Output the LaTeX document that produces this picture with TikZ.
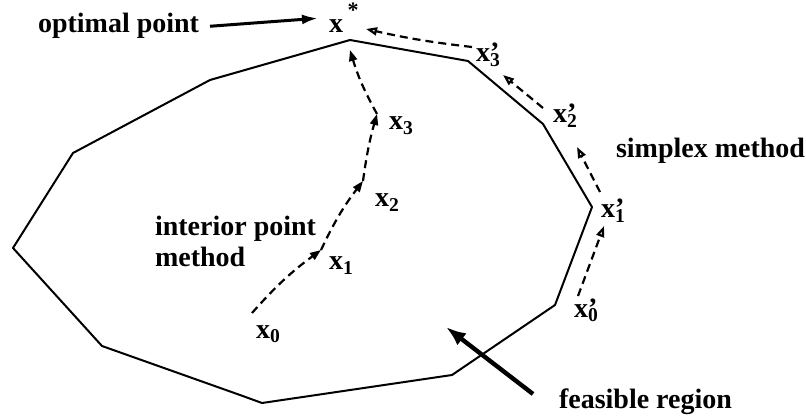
\documentclass[tikz,border=0pt]{standalone}
\usepackage{amsmath}
\usepackage{fontspec}
\setmainfont{Liberation Serif}
\usetikzlibrary{arrows.meta}
\tikzset{every picture/.style={line width=1pt}}
\tikzset{
  lbl/.style={inner sep=0pt, anchor=base west, font=\fontsize{14}{16}\selectfont\bfseries},
  ipath/.style={line width=1.1pt, dash pattern=on 4pt off 2.5pt, -{Triangle[length=5.5pt,width=4pt]}},
  spath/.style={line width=1.1pt, dash pattern=on 4pt off 2.5pt, -{Triangle[open,length=5.5pt,width=4pt]}},
}
\newcommand{\xpt}[1]{x\textsubscript{#1}}
\newcommand{\xpr}[1]{x\rlap{\textsubscript{#1}}’}

\begin{document}
\begin{tikzpicture}[x=0.5pt,y=0.5pt,yscale=-1]
    \useasboundingbox (0,0) rectangle (806,416);
    % feasible region
    \draw [line join=round] (350,40) -- (468,61) -- (543,124) -- (592,207) -- (555,305) -- (452,375) -- (262,403) -- (240,395) -- (102,346) -- (13,248) -- (73,153) -- (210,80) -- cycle;
    % points on the paths
    \coordinate (p0) at (252,313);
    \coordinate (p1) at (321,250);
    \coordinate (p2) at (363,181);
    \coordinate (p3) at (377,114);
    \coordinate (pt) at (350,50);
    \coordinate (q0) at (578,296);
    \coordinate (q1e) at (604,226);
    \coordinate (q1) at (600,192);
    \coordinate (q2e) at (577,147);
    \coordinate (q2) at (543,108);
    \coordinate (q3e) at (503,75);
    \coordinate (q3) at (472,47);
    \coordinate (qt) at (366,29);
    % labels
    \node (opt) [lbl] at (37,33) {optimal point};
    \node (xs) [lbl] at (328,33) {x\,\raisebox{7.5pt}{\fontsize{11}{11}\selectfont *}};
    \node (x0) [lbl] at (255,338) {\xpt{0}};
    \node (x1) [lbl] at (328,270) {\xpt{1}};
    \node (x2) [lbl] at (374,207) {\xpt{2}};
    \node (x3) [lbl] at (388,130) {\xpt{3}};
    \node (y0) [lbl] at (573,317) {\xpr{0}};
    \node (y1) [lbl] at (600,218) {\xpr{1}};
    \node (y2) [lbl] at (552,123) {\xpr{2}};
    \node (y3) [lbl] at (475,62) {\xpr{3}};
    \node (intr) [lbl] at (154,235) {interior point};
    \node (meth) [lbl] at (154,266) {method};
    \node (simp) [lbl] at (615,158) {simplex method};
    \node (feas) [lbl] at (558,408) {feasible region};
    % interior point path
    \draw [ipath] (p0) to[bend right=6] (p1);
    \draw [ipath] (p1) to[bend right=6] (p2);
    \draw [ipath] (p2) to[bend right=4] (p3);
    \draw [ipath] (p3) to[bend right=6] (pt);
    % simplex path
    \draw [spath] (q0) -- (q1e);
    \draw [spath] (q1) -- (q2e);
    \draw [spath] (q2) -- (q3e);
    \draw [spath] (q3) to[bend right=3] (qt);
    % pointers
    \draw [line width=1.5pt, -{Latex[length=8pt,width=5pt]}] ([xshift=5pt]opt.east) -- ([xshift=-5pt]xs.west);
    \draw [line width=2.2pt, -{Latex[length=10pt,width=7.5pt]}] (533,394) -- (446,327);
\end{tikzpicture}
\end{document}
